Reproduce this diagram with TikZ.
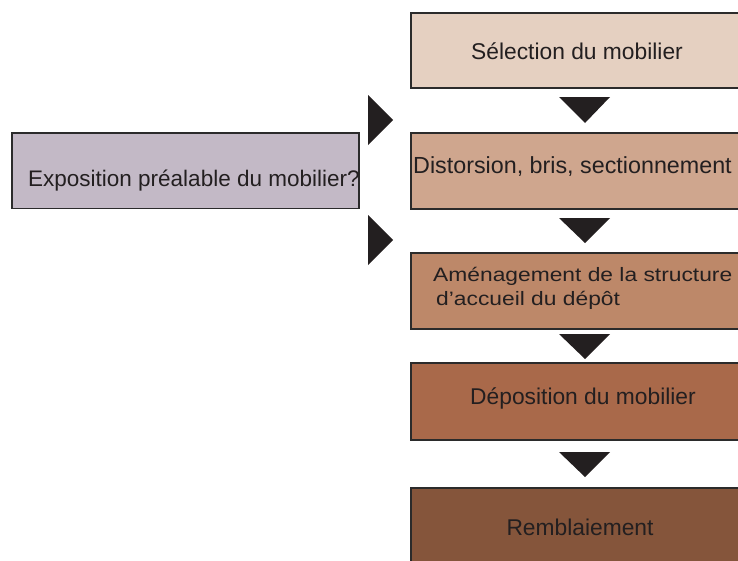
\documentclass[tikz,border=0pt]{standalone}
\usepackage{fontspec}
\setmainfont{Liberation Sans}
\usepackage{graphicx}
\definecolor{cA}{HTML}{E5D0C1}
\definecolor{cB}{HTML}{CFA68E}
\definecolor{cC}{HTML}{BD8869}
\definecolor{cD}{HTML}{A9694A}
\definecolor{cE}{HTML}{85553B}
\definecolor{cL}{HTML}{C3B9C6}
\definecolor{boxline}{HTML}{2B2B2B}
\definecolor{txt}{HTML}{231F20}
\begin{document}
\begin{tikzpicture}[x=1pt,y=-1pt,
  box/.style={draw=boxline, line width=1.8pt, rectangle, inner sep=0pt},
  lbl/.style={font=\fontsize{22.8}{26}\selectfont, text=txt, inner sep=0pt, anchor=base},
  tri/.style={fill=txt}]
\useasboundingbox (0,0) rectangle (738,560);
\clip (0,0) rectangle (738,560);
% boxes
\node[box, fill=cA, minimum width=349pt, minimum height=75pt] (b1) at (585.5,50.5) {};
\node[box, fill=cB, minimum width=349pt, minimum height=76pt] (b2) at (585.5,171) {};
\node[box, fill=cC, minimum width=349pt, minimum height=76pt] (b3) at (585.5,291) {};
\node[box, fill=cD, minimum width=349pt, minimum height=77pt] (b4) at (585.5,401.5) {};
\node[box, fill=cE, minimum width=349pt, minimum height=112pt] (b5) at (585.5,544) {};
\node[box, fill=cL, minimum width=347pt, minimum height=75.5pt] (b0) at (185.5,170.75) {};
% labels
\node[lbl] (t1) at (577,59) {Sélection du mobilier};
\node[lbl, anchor=base west, font=\fontsize{23.3}{26}\selectfont] (t2) at (413,173) {Distorsion, bris, sectionnement};
\node[lbl, anchor=base west] (t3a) at (433,281) {\scalebox{1}[0.85]{Aménagement de la structure}};
\node[lbl, anchor=base west] (t3b) at (436,305) {\scalebox{1}[0.85]{d’accueil du dépôt}};
\node[lbl] (t4) at (583,404) {Déposition du mobilier};
\node[lbl] (t5) at (580,535) {Remblaiement};
\node[lbl, anchor=base west, font=\fontsize{22.5}{26}\selectfont] (t0) at (28,186) {Exposition préalable du mobilier?};
% down arrows
\fill[tri] (559,97) -- (610,97) -- (585,123) -- cycle;
\fill[tri] (559,218) -- (610,218) -- (585,243) -- cycle;
\fill[tri] (559,334) -- (610,334) -- (585,359) -- cycle;
\fill[tri] (559,452) -- (610,452) -- (585,477) -- cycle;
% right arrows
\fill[tri] (368,95) -- (393,120) -- (368,145) -- cycle;
\fill[tri] (368,215) -- (393,240) -- (368,265) -- cycle;
\end{tikzpicture}
\end{document}
